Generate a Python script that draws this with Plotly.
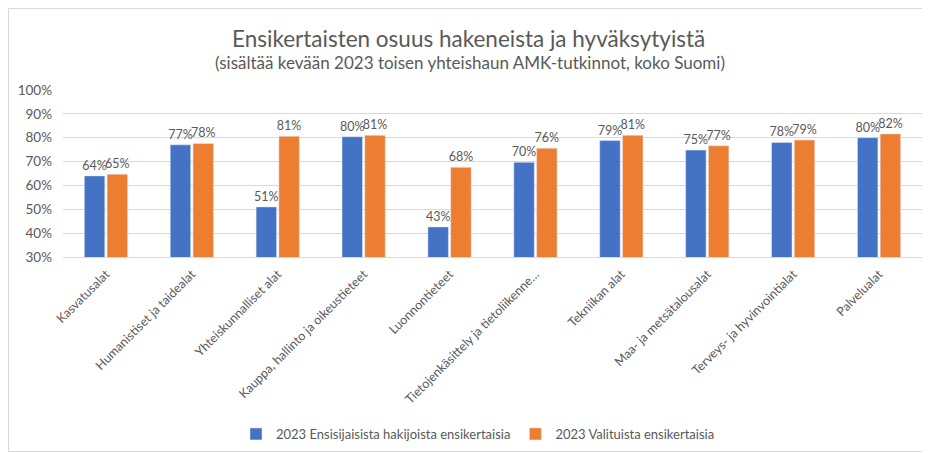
import plotly.graph_objects as go

categories = [
    "Kasvatusalat",
    "Humanistiset ja taidealat",
    "Yhteiskunnalliset alat",
    "Kauppa, hallinto ja oikeustieteet",
    "Luonnontieteet",
    "Tietojenkäsittely ja tietoliikenne…",
    "Tekniikan alat",
    "Maa- ja metsätalousalat",
    "Terveys- ja hyvinvointialat",
    "Palvelualat",
]
series1_name = "2023 Ensisijaisista hakijoista ensikertaisia"
series2_name = "2023 Valituista ensikertaisia"
series1 = [0.64, 0.77, 0.51, 0.804, 0.426, 0.697, 0.788, 0.748, 0.78, 0.80]
series2 = [0.647, 0.776, 0.806, 0.81, 0.676, 0.756, 0.81, 0.766, 0.79, 0.816]
y_ticks = [0.3, 0.4, 0.5, 0.6, 0.7, 0.8, 0.9, 1.0]

# page body has an 8px margin; figure sized to fit the 930x453 window
OFF = 8
W, H = 930 - OFF, 453 - OFF
ML, MR, MT, MB = 55, 8, 82, 196
pw = W - ML - MR
ph = H - MT - MB

def px_x(x):  # x in screenshot pixels
    return (x - OFF - ML) / pw

def px_y(y):  # y in screenshot pixels
    return (H - MB - (y - OFF)) / ph

FONT = "Lato, 'Open Sans', sans-serif"
GRAY = "#595959"

fig = go.Figure()
fig.add_trace(go.Bar(
    x=categories, y=series1, name=series1_name,
    marker=dict(color="#4472C4"),
    texttemplate="%{y:.0%}", textposition="outside",
    textfont=dict(size=12.5, color=GRAY, family=FONT),
    constraintext="none", cliponaxis=False,
))
fig.add_trace(go.Bar(
    x=categories, y=series2, name=series2_name,
    marker=dict(color="#ED7D31"),
    texttemplate="%{y:.0%}", textposition="outside",
    textfont=dict(size=12.5, color=GRAY, family=FONT),
    constraintext="none", cliponaxis=False,
))

fig.update_layout(
    width=W, height=H,
    margin=dict(l=ML, r=MR, t=MT, b=MB, autoexpand=False),
    paper_bgcolor="white", plot_bgcolor="white",
    barmode="group", bargap=0.47, bargroupgap=0.1,
    font=dict(family=FONT, color=GRAY, size=12),
    showlegend=True,
    legend=dict(
        orientation="h", x=px_x(478), xanchor="center",
        y=px_y(434), yanchor="middle",
        font=dict(size=13, color=GRAY, family=FONT),
        itemwidth=30, tracegroupgap=0,
    ),
    uniformtext=dict(mode=False),
)
fig.update_yaxes(
    range=[0.3, 1.0], tickvals=y_ticks, tickformat=".0%",
    showgrid=True, gridcolor="#d9d9d9", gridwidth=1,
    zeroline=False, showline=False,
    tickfont=dict(size=13.5, color=GRAY, family=FONT),
    ticks="", ticklabelstandoff=10,
)
fig.update_xaxes(
    tickangle=-45, showline=True, linecolor="#d9d9d9",
    tickfont=dict(size=12.5, color=GRAY, family=FONT),
    ticks="", ticklabelstandoff=4,
)

fig.add_annotation(
    text="Ensikertaisten osuus hakeneista ja hyväksytyistä",
    xref="paper", yref="paper", x=px_x(468), y=px_y(38),
    xanchor="center", yanchor="middle", showarrow=False,
    font=dict(size=22.5, color=GRAY, family=FONT),
)
fig.add_annotation(
    text="(sisältää kevään 2023 toisen yhteishaun AMK-tutkinnot, koko Suomi)",
    xref="paper", yref="paper", x=px_x(470), y=px_y(63),
    xanchor="center", yanchor="middle", showarrow=False,
    font=dict(size=17, color=GRAY, family=FONT),
)
fig.add_shape(
    type="rect", xref="paper", yref="paper",
    x0=px_x(8.5), x1=px_x(945), y0=px_y(451.5), y1=px_y(8.5),
    line=dict(color="#d9d9d9", width=1), fillcolor="rgba(0,0,0,0)",
    layer="below",
)

fig.write_html("out.html")
